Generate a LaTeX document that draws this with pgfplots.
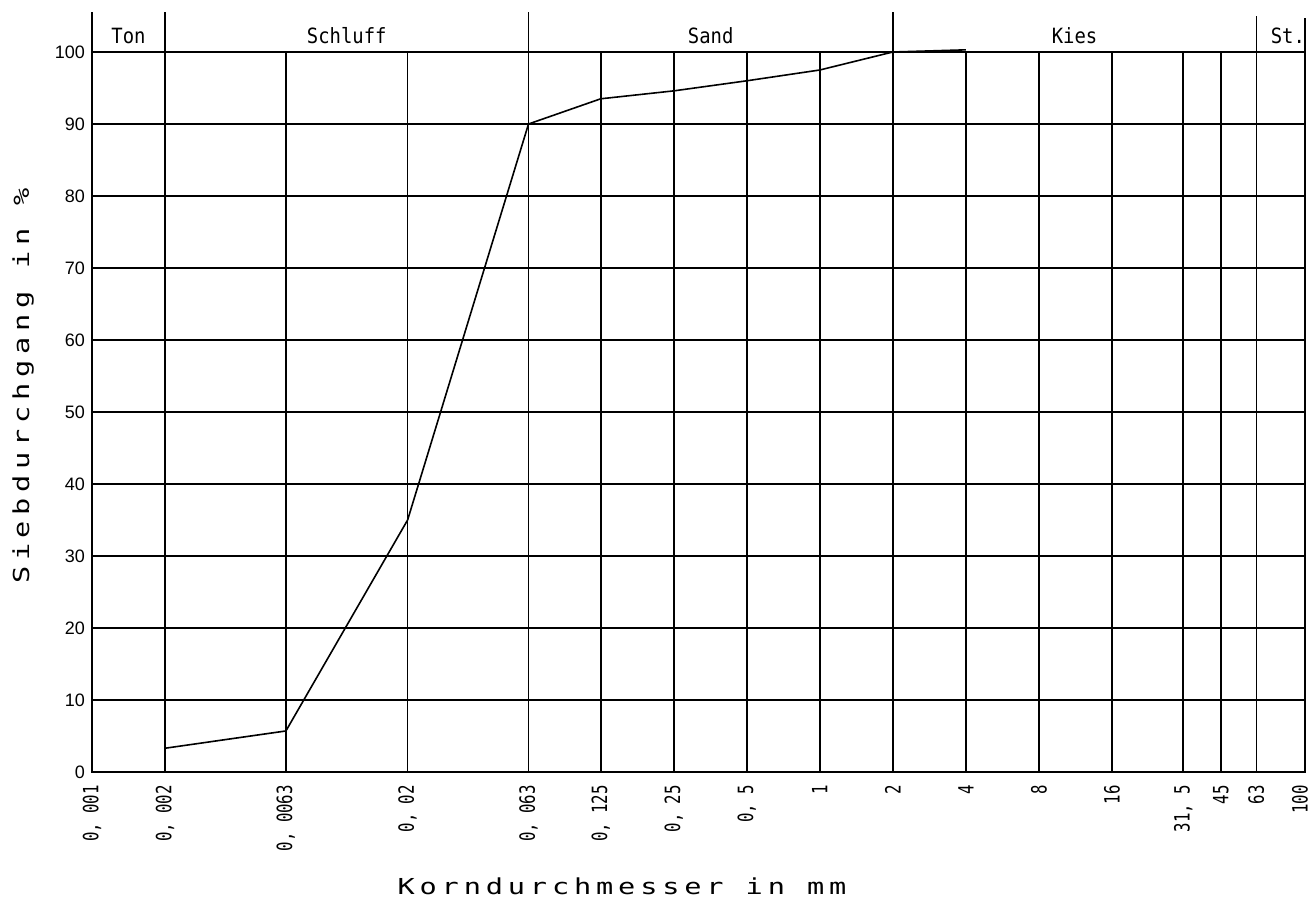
\documentclass[border=0pt]{standalone}
\usepackage{fontspec}
\usepackage{pgfplots}
\pgfplotsset{compat=1.18}
\newfontfamily\hdrfont[FakeStretch=0.9]{DejaVu Sans Mono}
\newfontfamily\ytfont{Liberation Sans}
\newfontfamily\xtfont[FakeStretch=0.75]{DejaVu Sans Mono}
\newfontfamily\labfont[FakeStretch=1.3,LetterSpace=22]{DejaVu Sans Mono}
\newfontfamily\ylabfont[FakeStretch=1.3,LetterSpace=26]{DejaVu Sans Mono}

\begin{document}
\begin{tikzpicture}
\begin{axis}[
  at={(0,0)}, anchor=south west,
  scale only axis, width=606.5pt, height=360pt,
  xmode=log, log basis x=10,
  xmin=0.001, xmax=100, ymin=0, ymax=100,
  xtick={0.001,0.002,0.0063,0.02,0.063,0.125,0.25,0.5,1,2,4,8,16,31.5,45,63},
  xticklabels={{0, 001},{0, 002},{0, 0063},{0, 02},{0, 063},{0, 125},{0, 25},{0, 5},1,2,4,8,16,{31, 5},45,63},
  extra x ticks={100},
  extra x tick labels={100},
  extra x tick style={xticklabel style={yshift=2.5pt}},
  ytick={0,10,...,100},
  yticklabels={0,10,20,30,40,50,60,70,80,90,100},
  minor tick num=0,
  grid=major,
  major grid style={black, line width=0.8pt},
  axis line style={black, line width=0.8pt},
  major tick length=0pt,
  xticklabel shift=3pt,
  xticklabel style={rotate=90, anchor=east, font=\xtfont\fontsize{10.5}{11}\selectfont},
  yticklabel style={font=\ytfont\fontsize{9}{10}\selectfont},
  clip=false,
]
\addplot[black, line width=0.8pt] coordinates {
  (0.002,3.3) (0.0063,5.7) (0.02,35) (0.063,90) (0.125,93.5)
  (0.25,94.6) (0.5,96.0) (1,97.5) (2,100) (4,100.3)
};
% header band of soil classes
\draw[line width=0.8pt] (axis cs:0.001,100) -- (axis cs:0.001,105.5);
\draw[line width=0.8pt] (axis cs:0.002,100) -- (axis cs:0.002,105.5);
\draw[line width=0.8pt] (axis cs:0.063,100) -- (axis cs:0.063,105.5);
\draw[line width=0.8pt] (axis cs:2,100) -- (axis cs:2,105.5);
\draw[line width=0.8pt] (axis cs:63,100) -- (axis cs:63,105);
\draw[line width=0.8pt] (axis cs:100,100) -- (axis cs:100,104.7);
\node[anchor=base] at (axis cs:0.001414,101.2) {\hdrfont\fontsize{10.5}{11}\selectfont Ton};
\node[anchor=base] at (axis cs:0.01122,101.2) {\hdrfont\fontsize{10.5}{11}\selectfont Schluff};
\node[anchor=base] at (axis cs:0.355,101.2) {\hdrfont\fontsize{10.5}{11}\selectfont Sand};
\node[anchor=base] at (axis cs:11.22,101.2) {\hdrfont\fontsize{10.5}{11}\selectfont Kies};
\node[anchor=base] at (axis cs:85,101.2) {\hdrfont\fontsize{10.5}{11}\selectfont St.};
\end{axis}
\node[anchor=base] at (265pt,-61.5pt) {\labfont\fontsize{11}{12}\selectfont Korndurchmesser in mm};
\node[rotate=90, anchor=base] at (-31.5pt,193pt) {\ylabfont\fontsize{11}{12}\selectfont Siebdurchgang in \%};
\pgfresetboundingbox
\path[use as bounding box] (-46pt,-64pt) rectangle (611pt,386pt);
\end{tikzpicture}
\end{document}
